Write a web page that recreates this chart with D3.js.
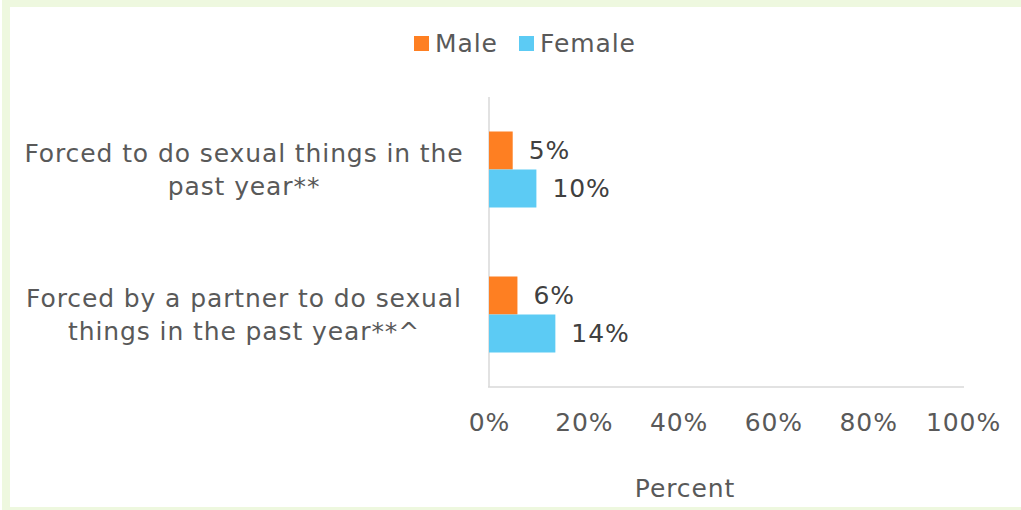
<!DOCTYPE html>
<html><head><meta charset="utf-8">
<script src="https://cdn.jsdelivr.net/npm/d3@7"></script>
<style>body{margin:0;background:#fff}svg{display:block;font-family:"DejaVu Sans",Verdana,sans-serif}text{letter-spacing:0.9px}</style>
</head><body><svg id="c" width="1021" height="510"></svg>
<script>
const categories = [
  ["Forced to do sexual things in the", "past year**"],
  ["Forced by a partner to do sexual", "things in the past year**^"]
];
const seriesNames = ["Male", "Female"];
const maleValues = [5, 6];
const femaleValues = [10, 14];
const tickValues = [0, 20, 40, 60, 80, 100];
const colors = ["#FE7F22", "#5CCBF4"];
const FS = 25;

const svg = d3.select("#c");
// frame
svg.append("rect").attr("x", 2).attr("y", 0).attr("width", 8).attr("height", 510).attr("fill", "#EEF8DF");
svg.append("rect").attr("x", 2).attr("y", 0).attr("width", 1019).attr("height", 7).attr("fill", "#EEF8DF");
svg.append("rect").attr("x", 2).attr("y", 507).attr("width", 1019).attr("height", 3).attr("fill", "#EEF8DF");

const x = d3.scaleLinear().domain([0, 100]).range([489, 963]);
const y = d3.scaleBand().domain(d3.range(categories.length)).range([97, 387]);
const sub = d3.scaleBand().domain(seriesNames).range([-38, 38]);

// axes lines
svg.append("line").attr("x1", 489).attr("x2", 489).attr("y1", 97).attr("y2", 387).attr("stroke", "#D9D9D9").attr("stroke-width", 1.5);
svg.append("line").attr("x1", 488).attr("x2", 964).attr("y1", 387).attr("y2", 387).attr("stroke", "#D9D9D9").attr("stroke-width", 1.5);

const data = [];
categories.forEach((c, i) => {
  data.push({i, s: "Male", v: maleValues[i], col: colors[0]});
  data.push({i, s: "Female", v: femaleValues[i], col: colors[1]});
});

svg.selectAll("rect.bar").data(data).enter().append("rect").attr("class", "bar")
  .attr("x", x(0))
  .attr("y", d => y(d.i) + y.bandwidth() / 2 + sub(d.s))
  .attr("width", d => x(d.v) - x(0))
  .attr("height", sub.bandwidth())
  .attr("fill", d => d.col);

svg.selectAll("text.lbl").data(data).enter().append("text").attr("class", "lbl")
  .attr("x", d => x(d.v) + 16)
  .attr("y", d => y(d.i) + y.bandwidth() / 2 + sub(d.s) + sub.bandwidth() / 2)
  .attr("dy", "0.35em")
  .attr("font-size", FS).attr("fill", "#404040")
  .text(d => d.v + "%");

// category labels
categories.forEach((lines, i) => {
  const cy = y(i) + y.bandwidth() / 2;
  lines.forEach((t, j) => {
    svg.append("text").attr("x", 244).attr("y", cy + (j - 0.5) * 33).attr("dy", "0.35em")
      .attr("text-anchor", "middle").attr("font-size", FS).attr("fill", "#595959").text(t);
  });
});

// tick labels
const ax = svg.append("g").attr("transform", "translate(0,422)")
  .call(d3.axisBottom(x).tickValues(tickValues).tickFormat(d => d + "%").tickSize(0).tickPadding(0));
ax.select(".domain").remove();
ax.selectAll("text").attr("font-size", FS).attr("fill", "#595959").attr("dy", "0.35em")
  .attr("font-family", '"DejaVu Sans",Verdana,sans-serif');

svg.append("text").attr("x", 685).attr("y", 488).attr("dy", "0.35em").attr("text-anchor", "middle")
  .attr("font-size", FS).attr("fill", "#595959").text("Percent");

// legend
const lg = [{n: "Male", x: 414}, {n: "Female", x: 519}];
lg.forEach((l, i) => {
  svg.append("rect").attr("x", l.x).attr("y", 36).attr("width", 15).attr("height", 15).attr("fill", colors[i]);
  svg.append("text").attr("x", l.x + 21).attr("y", 43).attr("dy", "0.35em").attr("font-size", FS)
    .attr("fill", "#595959").text(seriesNames[i]);
});
</script></body></html>
